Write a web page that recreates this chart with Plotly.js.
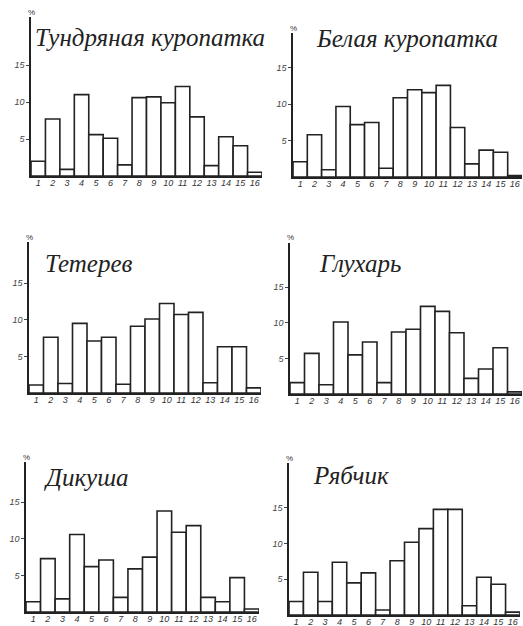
<!DOCTYPE html>
<html>
<head>
<meta charset="utf-8">
<script src="https://cdn.plot.ly/plotly-3.0.1.min.js"></script>
<style>html,body{margin:0;padding:0;background:#fff;}#chart{width:523px;height:626px;}</style>
</head>
<body>
<div id="chart"></div>
<script>
// ---- data ----
const classLabels = ['1','2','3','4','5','6','7','8','9','10','11','12','13','14','15','16'];
const speciesNames = ['Тундряная куропатка','Белая куропатка','Тетерев','Глухарь','Дикуша','Рябчик'];
const tundraPtarmigan = [2.0, 7.7, 0.9, 11.0, 5.6, 5.1, 1.5, 10.6, 10.7, 9.9, 12.1, 8.0, 1.4, 5.3, 4.1, 0.5];
const willowPtarmigan = [2.1, 5.8, 1.0, 9.7, 7.2, 7.5, 1.2, 10.9, 12.0, 11.6, 12.6, 6.8, 1.8, 3.7, 3.4, 0.2];
const blackGrouse     = [1.1, 7.6, 1.3, 9.5, 7.1, 7.6, 1.2, 9.1, 10.1, 12.2, 10.7, 11.0, 1.4, 6.3, 6.3, 0.7];
const capercaillie    = [1.6, 5.7, 1.3, 10.1, 5.5, 7.3, 1.6, 8.7, 9.1, 12.3, 11.6, 8.6, 2.2, 3.5, 6.5, 0.3];
const sprucegrouse    = [1.4, 7.3, 1.8, 10.6, 6.2, 7.1, 2.0, 5.9, 7.5, 13.8, 10.9, 11.8, 2.0, 1.4, 4.7, 0.4];
const hazelGrouse     = [1.9, 6.0, 1.9, 7.4, 4.5, 5.9, 0.7, 7.6, 10.2, 12.1, 14.8, 14.8, 1.3, 5.3, 4.3, 0.4];
const yTickVals = [5, 10, 15];
const yTickText = ['5', '10', '15'];
const percentLabel = '%';

const series = [tundraPtarmigan, willowPtarmigan, blackGrouse, capercaillie, sprucegrouse, hazelGrouse];

// ---- layout geometry (pixels) ----
const W = 523, H = 626;
const panels = [
  {x0:31,  x1:262, base:176, top:17,  ymax:21.5, tx:33,  ty:37},
  {x0:293, x1:522, base:177, top:33,  ymax:19.8, tx:314, ty:39},
  {x0:29,  x1:261, base:393, top:242, ymax:20.6, tx:43,  ty:263},
  {x0:290, x1:522, base:394, top:243, ymax:21.2, tx:317, ty:263},
  {x0:26,  x1:259, base:612, top:462, ymax:20.5, tx:42,  ty:477},
  {x0:289, x1:520, base:615, top:463, ymax:21.3, tx:311, ty:475}
];

const xs = classLabels.map((_, i) => i + 1);
const data = [];
const layout = {
  width: W, height: H,
  margin: {l:0, r:0, t:0, b:0},
  paper_bgcolor: '#fff', plot_bgcolor: 'rgba(0,0,0,0)',
  showlegend: false,
  bargap: 0,
  annotations: []
};

panels.forEach((p, i) => {
  const n = i === 0 ? '' : String(i + 1);
  data.push({
    type: 'bar',
    x: xs,
    y: series[i],
    xaxis: 'x' + n, yaxis: 'y' + n,
    marker: {color: '#fff', line: {color: '#222', width: 1.6}},
    hoverinfo: 'skip'
  });
  layout['xaxis' + n] = {
    domain: [p.x0 / W, p.x1 / W],
    anchor: 'y' + n,
    range: [0.5, 16.5],
    tickvals: xs, ticktext: classLabels,
    tickangle: 0,
    showgrid: false, zeroline: false,
    showline: true, linecolor: '#222', linewidth: 1.6,
    ticks: '', ticklen: 0,
    ticklabelstandoff: -2,
    tickfont: {family: 'Liberation Sans', size: 9, color: '#333', style: 'italic'},
    fixedrange: true
  };
  layout['yaxis' + n] = {
    domain: [1 - p.base / H, 1 - p.top / H],
    anchor: 'x' + n,
    range: [0, p.ymax],
    tickvals: yTickVals, ticktext: yTickText,
    showgrid: false, zeroline: false,
    showline: true, linecolor: '#222', linewidth: 1.6,
    ticks: 'outside', ticklen: 3, tickcolor: '#444', tickwidth: 1,
    tickfont: {family: 'Liberation Sans', size: 9, color: '#444', style: 'italic'},
    fixedrange: true
  };
  layout.annotations.push({
    xref: 'paper', yref: 'paper',
    x: p.tx / W, y: 1 - p.ty / H,
    xanchor: 'left', yanchor: 'middle',
    text: speciesNames[i], showarrow: false,
    font: {family: 'Liberation Serif', size: 25, color: '#222', style: 'italic'}
  });
  layout.annotations.push({
    xref: 'paper', yref: 'paper',
    x: p.x0 / W, y: 1 - (p.top - 5) / H,
    xanchor: 'center', yanchor: 'middle',
    text: percentLabel, showarrow: false,
    font: {family: 'Liberation Sans', size: 8, color: '#333'}
  });
});

Plotly.newPlot('chart', data, layout, {staticPlot: true, displayModeBar: false});
</script>
</body>
</html>
